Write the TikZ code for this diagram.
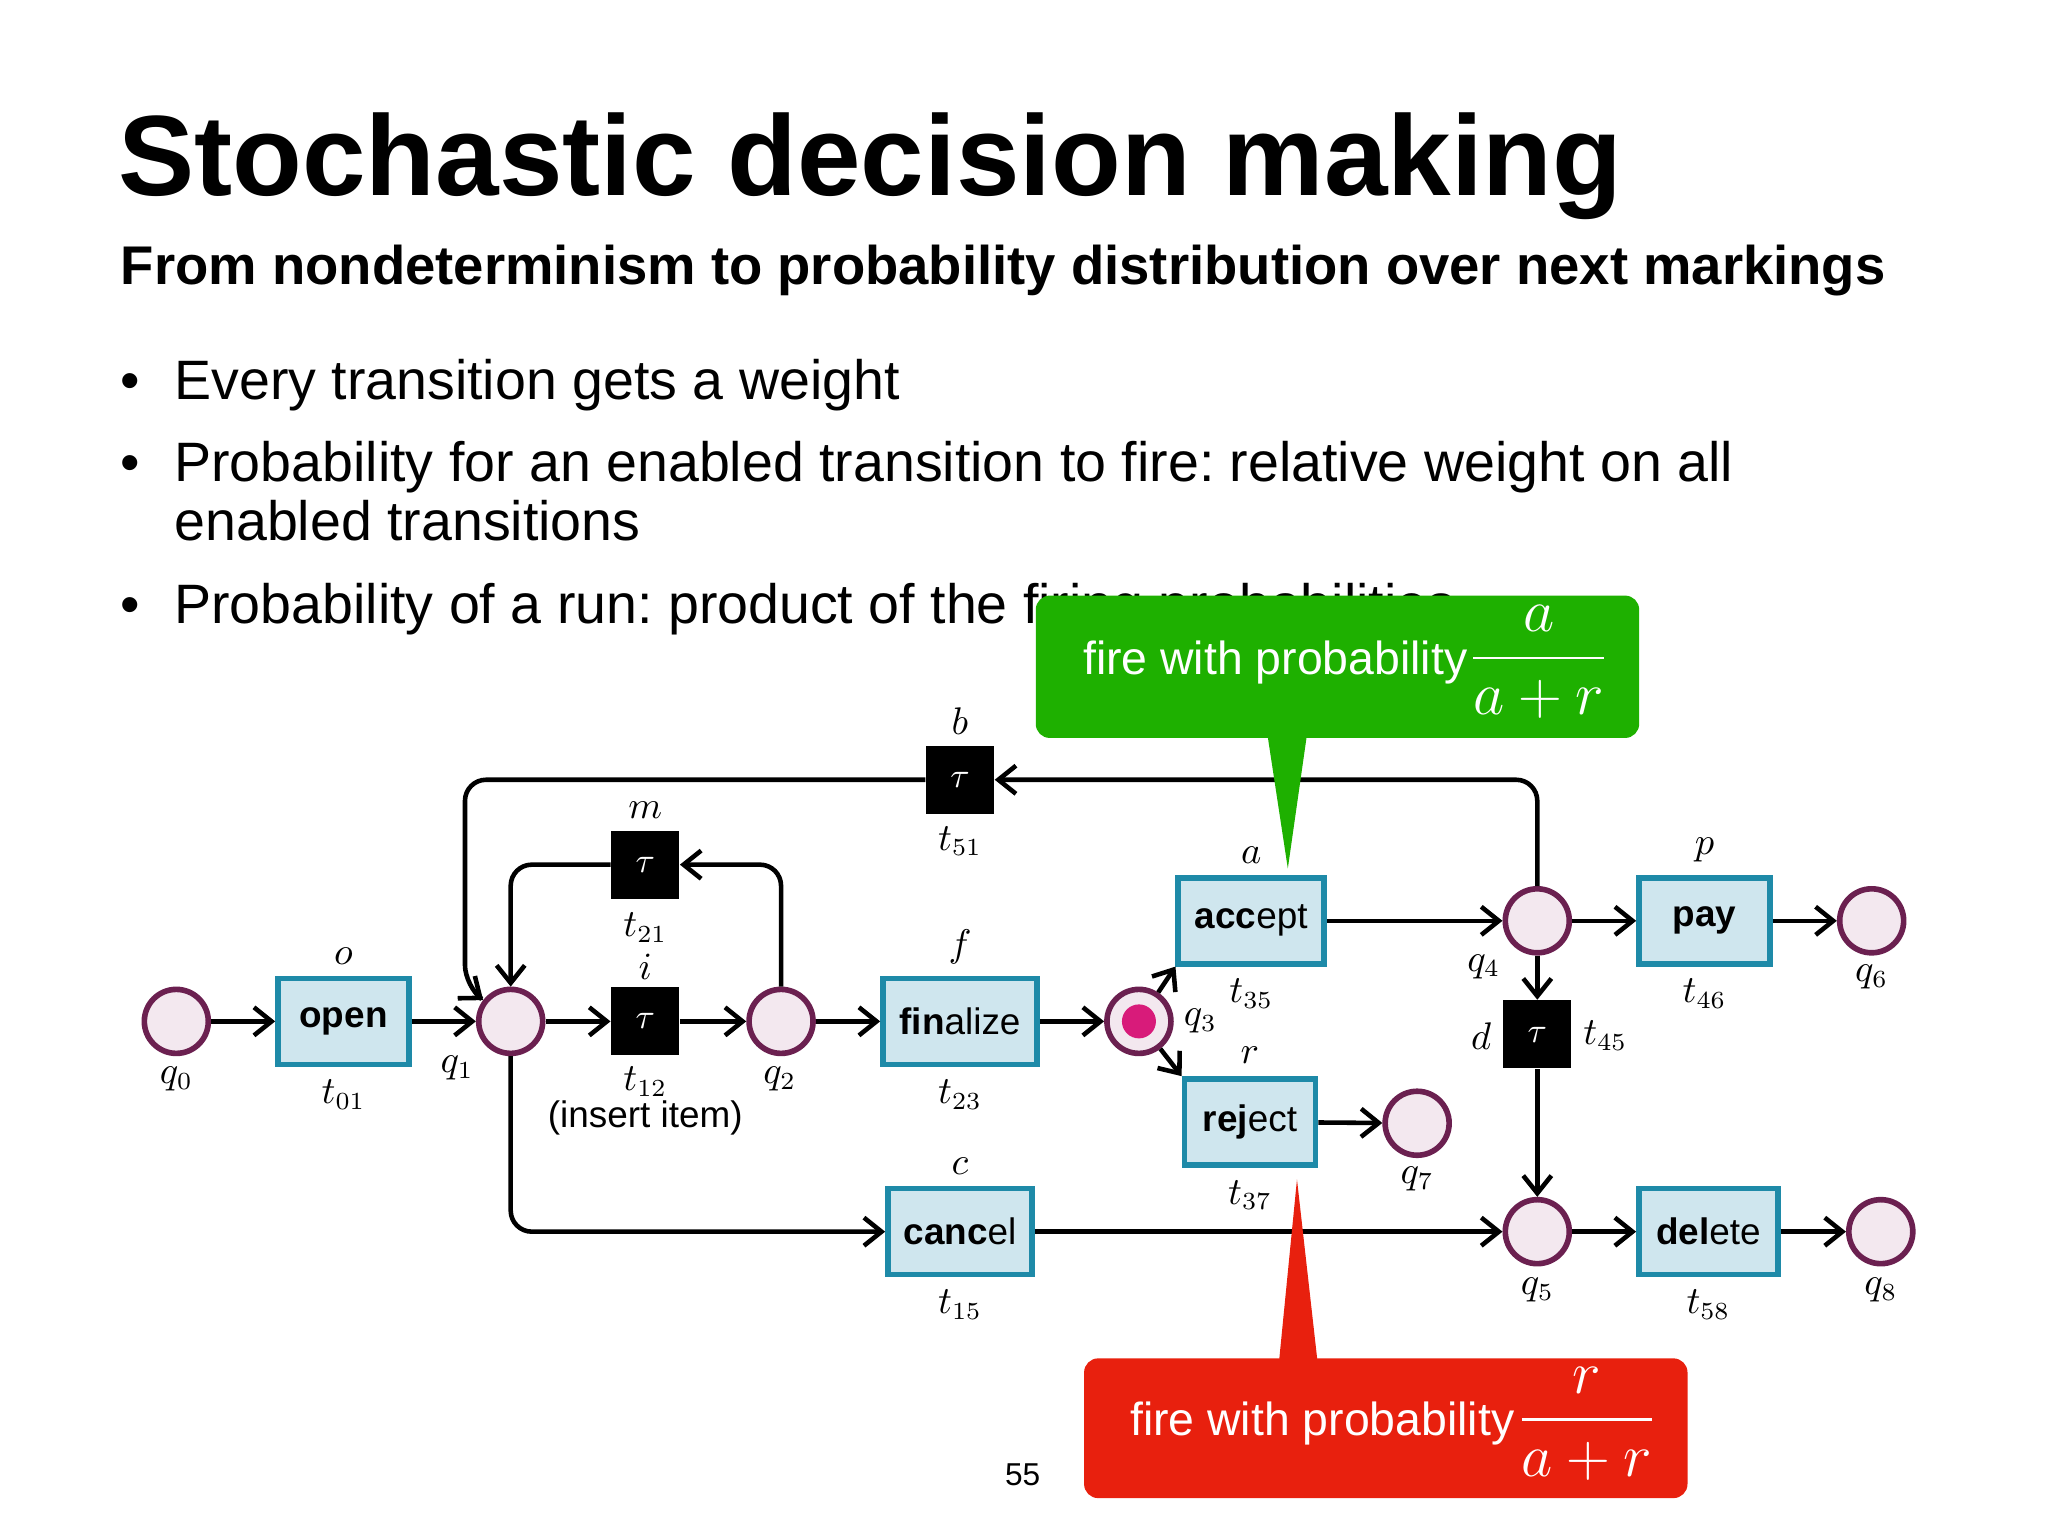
\documentclass[tikz,border=0pt]{standalone}
\usepackage{fontspec}
\setmainfont{Liberation Sans}
\usepackage{amsmath}
\usetikzlibrary{arrows.meta}
\definecolor{boxfill}{HTML}{CFE6EE}
\definecolor{boxdraw}{HTML}{1E8AA8}
\definecolor{plfill}{HTML}{F3E8EF}
\definecolor{pldraw}{HTML}{6B2050}
\definecolor{tok}{HTML}{D81B7A}
\definecolor{cgreen}{HTML}{1EB000}
\definecolor{cred}{HTML}{E8200E}
\frenchspacing
\begin{document}
\begin{tikzpicture}[x=0.013061cm,y=-0.013061cm,
  place/.style={circle,draw=pldraw,fill=plfill,line width=1.6pt,minimum size=0.64cm,inner sep=0},
  trans/.style={draw=boxdraw,fill=boxfill,line width=1.6pt,minimum height=0.86cm,inner sep=0,font=\fontsize{10.5}{12}\selectfont},
  silent/.style={fill=black,minimum size=0.68cm,inner sep=0,text=white,font=\fontsize{10}{12}\selectfont},
  arc/.style={line width=1.3pt,-{Straight Barb[length=5pt,width=8pt]},rounded corners=6pt},
  lab/.style={font=\fontsize{10.5}{12}\selectfont},
  callout/.style={font=\fontsize{13.2}{15}\selectfont,text=white,inner sep=0}]
\useasboundingbox (0,0) rectangle (1568,1176);
% texts
\node[anchor=base west,inner sep=0,font=\fontsize{32.5}{36}\selectfont\bfseries] (title) at (90,150) {Stochastic decision making};
\node[anchor=base west,inner sep=0,font=\fontsize{15.5}{18}\selectfont\bfseries] (sub) at (92,218) {From nondeterminism to probability distribution over next markings};
\begin{scope}[every node/.style={anchor=base west,inner sep=0,font=\fontsize{15.8}{18}\selectfont}]
\node (b1d) at (92,306) {•}; \node (b1) at (133,306) {Every transition gets a weight};
\node (b2d) at (92,369) {•}; \node (b2) at (133,369) {Probability for an enabled transition to fire: relative weight on all};
\node (b2b) at (133,414) {enabled transitions};
\node (b3d) at (92,477) {•}; \node (b3) at (133,477) {Probability of a run: product of the firing probabilities};
\end{scope}
% places
\node[place] (q0) at (135,782) {};
\node[place] (q1) at (391,782) {};
\node[place] (q2) at (598,782) {};
\node[place] (q3) at (872,782) {};
\fill[tok] (q3) circle (0.17cm);
\node[place] (q4) at (1177,705) {};
\node[place] (q5) at (1177,943) {};
\node[place] (q6) at (1433,705) {};
\node[place] (q7) at (1085,860) {};
\node[place] (q8) at (1440,943) {};
% transitions
\node[trans,minimum width=1.31cm] (open) at (263,782) {\textbf{open}};
\node[silent] (t12) at (494,782) {$\tau$};
\node[silent] (t21) at (494,662) {$\tau$};
\node[silent] (t51) at (735,597) {$\tau$};
\node[silent] (t45) at (1177,792) {$\tau$};
\node[trans,minimum width=1.54cm] (fin) at (735,782) {\textbf{fin}alize};
\node[trans,minimum width=1.46cm] (acc) at (958,705) {\textbf{acc}ept};
\node[trans,minimum width=1.31cm] (rej) at (957,859) {\textbf{rej}ect};
\node[trans,minimum width=1.31cm] (pay) at (1305,705) {\textbf{pay}};
\node[trans,minimum width=1.44cm] (can) at (735,943) {\textbf{canc}el};
\node[trans,minimum width=1.39cm] (del) at (1308,943) {\textbf{del}ete};
% arcs
\draw[arc] (q0) -- (open);
\draw[arc] (open) -- (q1);
\draw[arc] (q1) -- (t12);
\draw[arc] (t12) -- (q2);
\draw[arc] (q2) |- (t21);
\draw[arc] (t21) -| (q1);
\draw[arc] (q2) -- (fin);
\draw[arc] (fin) -- (q3);
\draw[arc] (q3) -- (acc.south west);
\draw[arc] (q3) -- (rej.north west);
\draw[arc] (acc) -- (q4);
\draw[arc] (q4) -- (pay);
\draw[arc] (pay) -- (q6);
\draw[arc] (rej) -- (q7);
\draw[arc] (q4) |- (t51);
\draw[arc] (t51) -| (356,755) -- (q1);
\draw[arc] (q4) -- (t45);
\draw[arc] (t45) -- (q5);
\draw[arc] (q1) |- (can);
\draw[arc] (can) -- (q5);
\draw[arc] (q5) -- (del);
\draw[arc] (del) -- (q8);
% labels
\begin{scope}[every node/.style={lab}]
\node (lq0) at (135,826) {$q_0$};
\node (lq1) at (350,818) {$q_1$};
\node (lq2) at (597,826) {$q_2$};
\node (lq3) at (919,782) {$q_3$};
\node (lq4) at (1136,740) {$q_4$};
\node (lq5) at (1177,988) {$q_5$};
\node (lq6) at (1433,748) {$q_6$};
\node (lq7) at (1085,903) {$q_7$};
\node (lq8) at (1440,988) {$q_8$};
\node (lo) at (263,732) {$o$};
\node (lt01) at (263,838) {$t_{01}$};
\node (li) at (494,740) {$i$};
\node (lt12) at (494,828) {$t_{12}$};
\node[inner sep=0] (ins) at (494,856) {(insert item)};
\node (lm) at (494,620) {$m$};
\node (lt21) at (494,710) {$t_{21}$};
\node (lb) at (735,552) {$b$};
\node (lt51) at (735,644) {$t_{51}$};
\node (lf) at (735,725) {$f$};
\node (lt23) at (735,838) {$t_{23}$};
\node (la) at (958,655) {$a$};
\node (lt35) at (958,761) {$t_{35}$};
\node (lr) at (957,808) {$r$};
\node (lt37) at (957,915) {$t_{37}$};
\node (lc) at (735,893) {$c$};
\node (lt15) at (735,999) {$t_{15}$};
\node (lp) at (1305,651) {$p$};
\node (lt46) at (1305,761) {$t_{46}$};
\node (ld) at (1134,793) {$d$};
\node (lt45) at (1229,793) {$t_{45}$};
\node (lt58) at (1308,999) {$t_{58}$};
\node[font=\fontsize{9}{10}\selectfont] (pg) at (783,1129) {55};
\end{scope}
% callouts
\fill[cgreen,rounded corners=4pt] (793,456) rectangle (1255,565);
\fill[cgreen] (970,560) -- (1001,560) -- (986,665) -- cycle;
\node[callout,anchor=east] (gtext) at (1124,507) {fire with probability};
\node[text=white,font=\fontsize{16}{18}\selectfont] (gfrac) at (1178,507) {$\dfrac{\;\;a\;\;}{a+r}$};
\fill[cred,rounded corners=4pt] (830,1040) rectangle (1292,1147);
\fill[cred] (979,1045) -- (1009,1045) -- (993,903) -- cycle;
\node[callout,anchor=east] (rtext) at (1160,1090) {fire with probability};
\node[text=white,font=\fontsize{16}{18}\selectfont] (rfrac) at (1215,1090) {$\dfrac{\;\;r\;\;}{a+r}$};
\end{tikzpicture}
\end{document}
